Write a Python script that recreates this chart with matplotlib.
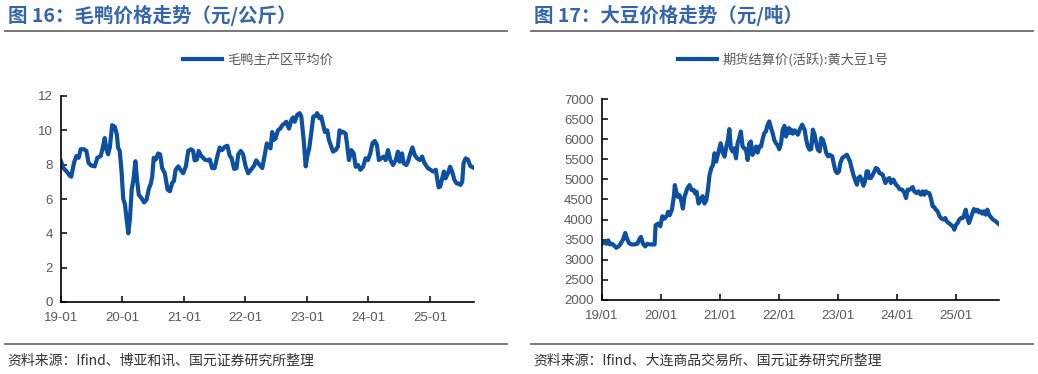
import matplotlib
matplotlib.use('Agg')
import matplotlib.pyplot as plt
import matplotlib.dates as mdates
from matplotlib.lines import Line2D
import pandas as pd

####### DATA #######

duck_dates = [
    '2019-01-01', '2019-01-15', '2019-02-04', '2019-02-23', '2019-03-03', '2019-03-19', '2019-04-02', '2019-04-16',
    '2019-04-28', '2019-05-17', '2019-06-01', '2019-06-14', '2019-06-30', '2019-07-20', '2019-08-05', '2019-08-25',
    '2019-09-04', '2019-09-18', '2019-09-28', '2019-10-08', '2019-10-18', '2019-11-01', '2019-11-17', '2019-11-29',
    '2019-12-06', '2019-12-16', '2019-12-26', '2020-01-06', '2020-01-16', '2020-01-26', '2020-02-05', '2020-02-15',
    '2020-02-25', '2020-03-06', '2020-03-18', '2020-03-28', '2020-04-07', '2020-04-23', '2020-05-09', '2020-05-23',
    '2020-06-06', '2020-06-18', '2020-06-26', '2020-07-05', '2020-07-17', '2020-07-31', '2020-08-12', '2020-08-24',
    '2020-09-09', '2020-09-25', '2020-10-09', '2020-10-23', '2020-11-02', '2020-11-12', '2020-11-28', '2020-12-11',
    '2020-12-27', '2021-01-12', '2021-01-26', '2021-02-11', '2021-02-24', '2021-03-05', '2021-03-19', '2021-03-29',
    '2021-04-14', '2021-05-04', '2021-05-20', '2021-06-03', '2021-06-17', '2021-07-02', '2021-07-18', '2021-08-01',
    '2021-08-15', '2021-09-01', '2021-09-16', '2021-09-30', '2021-10-10', '2021-10-26', '2021-11-09', '2021-11-19',
    '2021-12-04', '2021-12-18', '2022-01-02', '2022-01-17', '2022-02-03', '2022-02-22', '2022-03-06', '2022-03-26',
    '2022-04-11', '2022-04-25', '2022-05-08', '2022-05-20', '2022-05-30', '2022-06-09', '2022-06-19', '2022-06-29',
    '2022-07-13', '2022-07-27', '2022-08-08', '2022-08-22', '2022-09-01', '2022-09-17', '2022-10-01', '2022-10-11',
    '2022-10-21', '2022-11-04', '2022-11-19', '2022-11-29', '2022-12-13', '2022-12-25', '2023-01-03', '2023-01-15',
    '2023-01-29', '2023-02-08', '2023-02-21', '2023-03-03', '2023-03-17', '2023-03-27', '2023-04-06', '2023-04-18',
    '2023-05-02', '2023-05-12', '2023-05-26', '2023-06-05', '2023-06-21', '2023-07-04', '2023-07-14', '2023-07-24',
    '2023-08-03', '2023-08-19', '2023-08-27', '2023-09-08', '2023-09-22', '2023-10-06', '2023-10-18', '2023-11-01',
    '2023-11-15', '2023-12-01', '2023-12-16', '2023-12-30', '2024-01-13', '2024-01-25', '2024-02-08', '2024-02-21',
    '2024-03-04', '2024-03-18', '2024-04-01', '2024-04-13', '2024-04-27', '2024-05-11', '2024-05-27', '2024-06-12',
    '2024-06-25', '2024-07-05', '2024-07-19', '2024-07-29', '2024-08-14', '2024-08-24', '2024-09-07', '2024-09-19',
    '2024-10-03', '2024-10-17', '2024-11-02', '2024-11-16', '2024-11-26', '2024-12-07', '2024-12-21', '2025-01-05',
    '2025-01-20', '2025-02-05', '2025-02-13', '2025-02-22', '2025-03-03', '2025-03-15', '2025-03-25', '2025-04-04',
    '2025-04-18', '2025-05-01', '2025-05-13', '2025-05-27', '2025-06-10', '2025-06-22', '2025-07-02', '2025-07-12',
    '2025-07-20', '2025-08-01', '2025-08-15', '2025-08-29', '2025-09-14',
]
duck_prices = [
    8.2, 7.8, 7.6, 7.35, 7.3, 8.1, 8.5, 8.4,
    8.9, 8.9, 8.8, 8.1, 7.95, 7.9, 8.4, 8.5,
    8.9, 9.55, 8.9, 8.6, 9.0, 10.3, 10.2, 9.75,
    9.0, 8.8, 7.7, 6.0, 5.7, 4.8, 4.0, 4.9,
    6.55, 7.1, 8.2, 7.1, 6.25, 6.05, 5.8, 5.95,
    6.6, 6.9, 7.3, 8.4, 8.3, 8.65, 8.6, 7.8,
    7.5, 6.55, 6.45, 6.95, 7.05, 7.7, 7.9, 7.7,
    7.5, 7.9, 8.8, 8.9, 8.8, 8.25, 8.3, 8.8,
    8.5, 8.3, 8.25, 8.3, 7.8, 7.8, 8.5, 9.0,
    8.85, 9.05, 9.1, 8.5, 8.4, 7.75, 7.8, 8.6,
    8.8, 8.6, 7.9, 7.5, 7.7, 7.95, 8.25, 7.98,
    7.8, 8.56, 9.24, 9.05, 8.95, 9.9, 9.44, 9.53,
    10.0, 10.1, 10.3, 10.4, 10.5, 10.1, 10.6, 10.75,
    10.5, 10.9, 11.0, 10.8, 9.44, 7.9, 8.47, 8.95,
    10.0, 10.8, 10.83, 11.0, 10.7, 10.8, 10.4, 9.9,
    10.0, 9.44, 9.05, 8.76, 8.85, 9.05, 10.0, 9.86,
    9.92, 9.8, 9.24, 8.27, 8.85, 8.66, 7.88, 7.98,
    7.7, 7.88, 8.37, 8.27, 8.66, 9.24, 9.38, 9.15,
    8.27, 8.37, 8.47, 8.27, 8.85, 8.27, 7.98, 8.27,
    8.76, 8.17, 8.66, 8.08, 7.98, 8.17, 8.66, 9.0,
    8.56, 8.37, 8.27, 8.47, 8.17, 7.98, 7.79, 7.7,
    7.6, 7.7, 7.2, 6.68, 6.72, 7.2, 7.6, 7.2,
    7.5, 7.88, 7.6, 7.1, 6.9, 6.9, 6.82, 7.0,
    8.08, 8.37, 8.3, 7.92, 7.84,
]

soy_dates = [
    '2019-01-01', '2019-01-15', '2019-01-29', '2019-02-09', '2019-02-19', '2019-03-04', '2019-03-16', '2019-03-30',
    '2019-04-14', '2019-04-26', '2019-05-11', '2019-05-25', '2019-06-05', '2019-06-17', '2019-07-01', '2019-07-22',
    '2019-08-08', '2019-08-22', '2019-08-30', '2019-09-12', '2019-09-26', '2019-10-09', '2019-10-23', '2019-11-07',
    '2019-11-23', '2019-11-29', '2019-12-14', '2019-12-28', '2020-01-10', '2020-01-24', '2020-02-08', '2020-02-14',
    '2020-02-24', '2020-03-09', '2020-03-21', '2020-03-27', '2020-04-05', '2020-04-15', '2020-04-25', '2020-05-05',
    '2020-05-16', '2020-05-26', '2020-06-12', '2020-06-26', '2020-07-10', '2020-07-23', '2020-07-31', '2020-08-09',
    '2020-08-21', '2020-09-03', '2020-09-15', '2020-09-27', '2020-10-08', '2020-10-18', '2020-10-28', '2020-11-08',
    '2020-11-18', '2020-11-28', '2020-12-08', '2020-12-18', '2021-01-05', '2021-01-19', '2021-01-29', '2021-02-09',
    '2021-02-19', '2021-02-28', '2021-03-09', '2021-03-20', '2021-03-30', '2021-04-10', '2021-04-20', '2021-04-30',
    '2021-05-10', '2021-05-21', '2021-05-31', '2021-06-11', '2021-06-21', '2021-07-01', '2021-07-11', '2021-07-21',
    '2021-08-01', '2021-08-12', '2021-08-22', '2021-09-02', '2021-09-12', '2021-09-22', '2021-10-02', '2021-10-12',
    '2021-10-23', '2021-11-02', '2021-11-13', '2021-11-23', '2021-12-03', '2021-12-13', '2021-12-23', '2022-01-03',
    '2022-01-14', '2022-01-24', '2022-02-04', '2022-02-14', '2022-02-24', '2022-03-04', '2022-03-10', '2022-03-18',
    '2022-03-28', '2022-04-08', '2022-04-18', '2022-04-28', '2022-05-09', '2022-05-25', '2022-06-09', '2022-06-19',
    '2022-06-29', '2022-07-10', '2022-07-20', '2022-07-30', '2022-08-10', '2022-08-20', '2022-08-30', '2022-09-10',
    '2022-09-20', '2022-09-30', '2022-10-11', '2022-10-21', '2022-11-01', '2022-11-11', '2022-11-27', '2022-12-08',
    '2022-12-18', '2022-12-28', '2023-01-08', '2023-01-16', '2023-01-28', '2023-02-12', '2023-02-26', '2023-03-07',
    '2023-03-17', '2023-03-27', '2023-04-07', '2023-04-17', '2023-04-29', '2023-05-08', '2023-05-18', '2023-05-28',
    '2023-06-08', '2023-06-18', '2023-06-28', '2023-07-06', '2023-07-14', '2023-07-25', '2023-08-05', '2023-08-15',
    '2023-08-25', '2023-09-05', '2023-09-15', '2023-09-25', '2023-10-06', '2023-10-22', '2023-11-06', '2023-11-16',
    '2023-11-26', '2023-12-11', '2023-12-27', '2024-01-07', '2024-01-17', '2024-02-03', '2024-02-17', '2024-02-27',
    '2024-03-08', '2024-03-22', '2024-04-08', '2024-04-18', '2024-05-02', '2024-05-14', '2024-05-29', '2024-06-09',
    '2024-06-19', '2024-06-29', '2024-07-10', '2024-07-20', '2024-07-30', '2024-08-10', '2024-08-20', '2024-08-30',
    '2024-09-10', '2024-09-20', '2024-09-30', '2024-10-15', '2024-10-27', '2024-11-05', '2024-11-17', '2024-12-01',
    '2024-12-16', '2024-12-22', '2025-01-02', '2025-01-12', '2025-01-22', '2025-02-02', '2025-02-12', '2025-02-22',
    '2025-03-03', '2025-03-13', '2025-03-23', '2025-04-03', '2025-04-13', '2025-04-23', '2025-05-04', '2025-05-14',
    '2025-05-24', '2025-06-04', '2025-06-14', '2025-06-24', '2025-07-05', '2025-07-15', '2025-07-25', '2025-08-05',
    '2025-08-19', '2025-09-05', '2025-09-21',
]
soy_prices = [
    3400, 3442, 3400, 3483, 3383, 3400, 3358, 3300,
    3333, 3400, 3500, 3667, 3525, 3417, 3383, 3383,
    3400, 3525, 3567, 3400, 3333, 3400, 3383, 3383,
    3383, 3858, 3900, 3833, 4083, 4025, 4108, 4192,
    4108, 4250, 4567, 4858, 4692, 4567, 4608, 4483,
    4275, 4567, 4775, 4858, 4733, 4733, 4650, 4692,
    4400, 4483, 4583, 4400, 4483, 4733, 5108, 5275,
    5358, 5650, 5442, 5608, 5900, 5658, 5567, 5817,
    5983, 6250, 5775, 5692, 5775, 5525, 5900, 6025,
    6192, 5817, 5775, 5733, 5483, 5900, 5942, 5608,
    5692, 5817, 5667, 5817, 5817, 6000, 6150, 6192,
    6358, 6442, 6275, 6150, 5983, 5900, 5858, 5750,
    5900, 6233, 6333, 6067, 6233, 6275, 6154, 6236,
    6137, 6220, 6170, 6112, 6236, 6361, 6236, 5988,
    5822, 5739, 5755, 6236, 6112, 5905, 5739, 5697,
    6029, 5988, 5838, 5656, 5573, 5614, 5573, 5366,
    5200, 5158, 5200, 5407, 5532, 5573, 5614, 5532,
    5449, 5283, 5117, 4993, 4868, 5034, 5075, 4993,
    4843, 4951, 5200, 5200, 5034, 5034, 5117, 5200,
    5283, 5258, 5158, 5142, 5117, 4910, 5009, 5034,
    4910, 4993, 4868, 4827, 4760, 4744, 4661, 4536,
    4744, 4744, 4810, 4702, 4661, 4702, 4619, 4702,
    4619, 4702, 4661, 4661, 4536, 4329, 4312, 4246,
    4205, 4097, 4039, 4002, 4039, 3956, 3914, 3873,
    3815, 3749, 3873, 3914, 4002, 4039, 4039, 4122,
    4246, 4039, 3914, 4039, 4164, 4263, 4205, 4246,
    4180, 4205, 4147, 4205, 4122, 4246, 4122, 4064,
    4002, 3956, 3898,
]

duck_label = '毛鸭主产区平均价'
soy_label = '期货结算价(活跃):黄大豆1号'
titles = ['图 16：毛鸭价格走势（元/公斤）', '图 17：大豆价格走势（元/吨）']
sources = ['资料来源：Ifind、博亚和讯、国元证券研究所整理',
           '资料来源：Ifind、大连商品交易所、国元证券研究所整理']

####### STYLE #######

CJK = ['Noto Sans CJK SC', 'DejaVu Sans']
LINE_BLUE = '#0D4FA0'
TITLE_BLUE = '#3465AC'
GREY = '#595959'
W, H = 1038, 374

plt.rcParams['font.family'] = ['Liberation Sans', 'DejaVu Sans']


def fx(px):
    return px / W


def fy(py):
    return 1 - py / H


def plot_panel(fig, rect, dates, values, label, fmt, ylim, ystep, xend, legend_x):
    '''
    Draws one price panel with left/bottom spines and inward ticks
    '''
    ax = fig.add_axes(rect)
    s = pd.Series(values, index=pd.to_datetime(dates))
    ax.plot(s.index, s.values, color=LINE_BLUE, lw=3, label=label, solid_joinstyle='round')
    ax.set_xlim(pd.Timestamp('2019-01-01'), pd.Timestamp(xend))
    ax.set_ylim(*ylim)
    ax.set_yticks(range(ylim[0], ylim[1] + 1, ystep))
    ax.xaxis.set_major_locator(mdates.YearLocator())
    ax.xaxis.set_major_formatter(mdates.DateFormatter(fmt))
    for side in ['top', 'right']:
        ax.spines[side].set_visible(False)
    for side in ['left', 'bottom']:
        ax.spines[side].set_linewidth(1.2)
        ax.spines[side].set_color('black')
    ax.tick_params(direction='in', length=4, width=1.1, colors='black',
                   labelcolor=GREY, labelsize=9.5)
    ax.tick_params(axis='x', pad=7)
    ax.tick_params(axis='y', pad=6)
    leg = ax.legend(loc='center', bbox_to_anchor=(legend_x, fy(60)), bbox_transform=fig.transFigure,
                    frameon=False, handlelength=3.0, handletextpad=0.4,
                    prop={'family': CJK, 'size': 9.5})
    for t in leg.get_texts():
        t.set_color(GREY)
    return ax


fig = plt.figure(figsize=(W / 100, H / 100), dpi=100)

plot_panel(fig, [fx(61), fy(302), fx(474 - 61), fy(96) - fy(302)],
           duck_dates, duck_prices, duck_label, '%y-%m', (0, 12), 2, '2025-09-20', fx(258))
plot_panel(fig, [fx(602), fy(300), fx(999 - 602), fy(99) - fy(300)],
           soy_dates, soy_prices, soy_label, '%y/%m', (2000, 7000), 500, '2025-09-25', fx(783))

# titles, rules and source notes
for x0, x1, title, src in [(5, 507, titles[0], sources[0]), (531, 1033, titles[1], sources[1])]:
    fig.text(fx(x0 + 3), fy(15), title, family=CJK, fontsize=14, weight='bold',
             color=TITLE_BLUE, va='center', ha='left')
    fig.add_artist(Line2D([fx(x0), fx(x1)], [fy(31), fy(31)], color='#6B6B6B', lw=1.3))
    fig.add_artist(Line2D([fx(x0), fx(x1)], [fy(344), fy(344)], color='#6B6B6B', lw=1.3))
    fig.text(fx(x0 + 2), fy(361), src, family=CJK, fontsize=10, color='#333333',
             va='center', ha='left')

fig.savefig('out.png', dpi=100)
